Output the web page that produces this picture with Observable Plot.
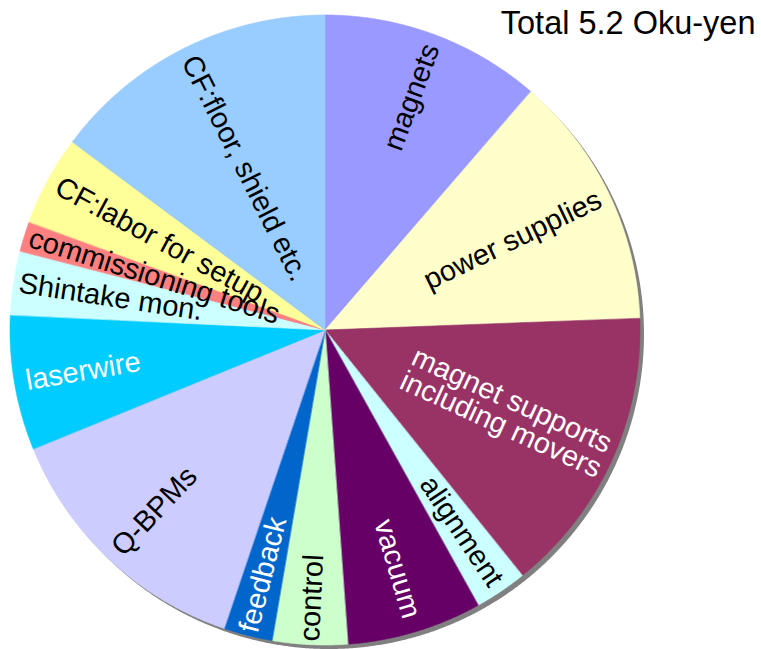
<!DOCTYPE html>
<html>
<head>
<meta charset="utf-8">
<script src="https://cdn.jsdelivr.net/npm/d3@7"></script>
<script src="https://cdn.jsdelivr.net/npm/@observablehq/plot@0.6"></script>
<style>
  body { margin: 0; background: #fff; }
  #chart { width: 761px; height: 649px; }
</style>
</head>
<body>
<div id="chart"></div>
<script>
// ---- data (million yen; total 520 = 5.2 Oku-yen) ----
const categories = [
  "magnets", "power supplies", "magnet supports\nincluding movers", "alignment",
  "vacuum", "control", "feedback", "Q-BPMs", "laserwire", "Shintake mon.",
  "commissioning tools", "CF:labor for setup", "CF:floor, shield etc."
];
const values = [59, 68, 77, 14, 36, 20, 13, 71, 36, 17, 8, 24, 77];
const title = "Total 5.2 Oku-yen";

// ---- styles / layout ----
const colors = [
  "#9999FF", "#FFFFCC", "#993366", "#CCFFFF", "#660066", "#CCFFCC", "#0066CC",
  "#CCCCFF", "#00CCFF", "#CCFFFF", "#FF8080", "#FFFF99", "#99CCFF"
];
const labelInk = ["black","black","white","black","white","black","white","black","white","black","black","black","black"];
const labelRadius = [0.79, 0.66, 0.63, 0.77, 0.79, 0.85, 0.80, 0.79, 0.78, 0.69, 0.57, 0.60, 0.575];
const R = 315;
const font = "Liberation Sans, Arial, Helvetica, sans-serif";

const table = categories.map((name, i) => ({name, value: values[i], ink: labelInk[i], lr: labelRadius[i]}));
const arcs = d3.pie().sort(null).value(d => d.value)(table);

// slice outlines sampled along the arc
const step = Math.PI / 720;
const sliceRows = [];
for (const a of arcs) {
  const n = Math.max(2, Math.ceil((a.endAngle - a.startAngle) / step) + 1);
  for (let k = 0; k < n; k++) {
    const t = a.startAngle + (a.endAngle - a.startAngle) * k / (n - 1);
    sliceRows.push({name: a.data.name, x: R * Math.sin(t), y: R * Math.cos(t)});
  }
}
const circleRows = [];
for (let k = 0; k <= 1440; k++) {
  const t = 2 * Math.PI * k / 1440;
  circleRows.push({x: R * Math.sin(t), y: R * Math.cos(t)});
}

const labels = arcs.map(a => {
  const mid = (a.startAngle + a.endAngle) / 2;
  const deg = mid * 180 / Math.PI;
  const r = a.data.lr * R;
  return {
    text: a.data.name, ink: a.data.ink,
    x: r * Math.sin(mid), y: r * Math.cos(mid),
    rot: deg < 180 ? deg - 90 : deg - 270
  };
});

const chart = Plot.plot({
  width: 761,
  height: 649,
  margin: 0,
  style: {fontFamily: font, background: "#fff"},
  x: {domain: [-325, 436], axis: null},
  y: {domain: [-319, 330], axis: null},
  color: {domain: categories, range: colors},
  marks: [
    Plot.area(circleRows, {x1: "x", y1: "y", x2: 0, y2: 0, fill: "#808080", dx: 4, dy: 4}),
    Plot.area(sliceRows, {x1: "x", y1: "y", x2: 0, y2: 0, z: "name", fill: "name", stroke: "name", strokeWidth: 0.6}),
    Plot.text(labels.filter(d => d.ink === "black"), {
      x: "x", y: "y", text: "text", rotate: "rot", fill: "black",
      fontSize: 29, fontFamily: font, lineHeight: 0.92, textAnchor: "middle"
    }),
    Plot.text(labels.filter(d => d.ink === "white"), {
      x: "x", y: "y", text: "text", rotate: "rot", fill: "white",
      fontSize: 29, fontFamily: font, lineHeight: 0.92, textAnchor: "middle"
    }),
    Plot.text([title], {
      text: d => d, frameAnchor: "top-right", textAnchor: "end", lineAnchor: "bottom",
      dx: -6, dy: 33, fontSize: 32.5, fontFamily: font, fill: "black"
    })
  ]
});
document.getElementById("chart").appendChild(chart);
</script>
</body>
</html>
